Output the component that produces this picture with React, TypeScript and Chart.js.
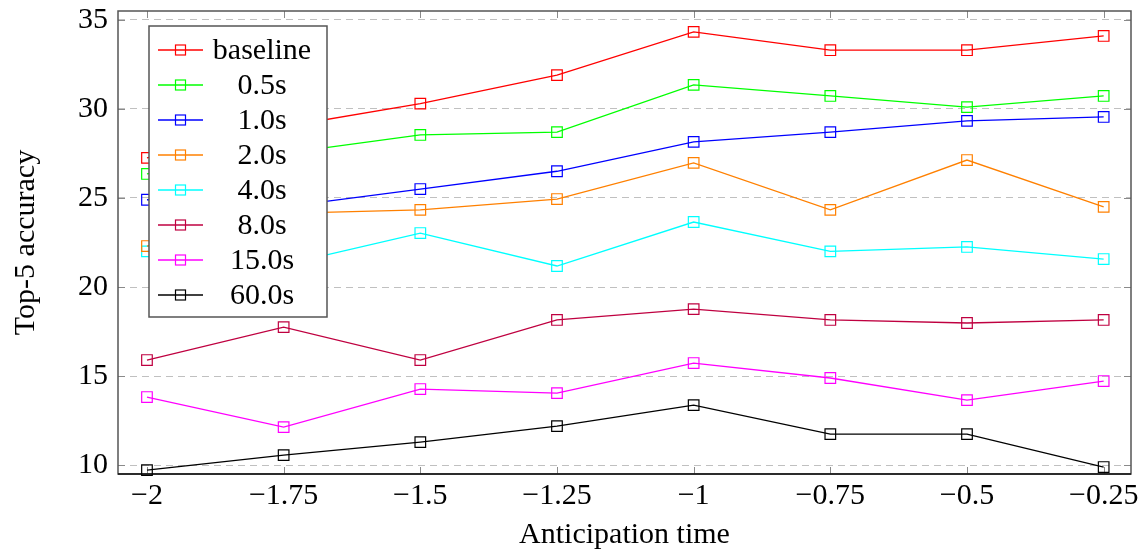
import React, { useEffect, useRef } from "react";
import { Chart, registerables } from "chart.js";
Chart.register(...registerables);

const xValues = [-2, -1.75, -1.5, -1.25, -1, -0.75, -0.5, -0.25];
const yTicks = [10, 15, 20, 25, 30, 35];

const seriesLabels = ["baseline", "0.5s", "1.0s", "2.0s", "4.0s", "8.0s", "15.0s", "60.0s"];
const seriesColors = ["#ff0000", "#00ff00", "#0000ff", "#ff8000", "#00ffff", "#bf0040", "#ff00ff", "#000000"];

const baseline = [27.25, 29.0, 30.3, 31.9, 34.33, 33.3, 33.3, 34.1];
const s05 = [26.35, 27.5, 28.54, 28.7, 31.35, 30.73, 30.1, 30.73];
const s10 = [24.9, 24.5, 25.5, 26.5, 28.15, 28.7, 29.33, 29.55];
const s20 = [22.3, 24.13, 24.33, 24.94, 26.97, 24.33, 27.13, 24.5];
const s40 = [22.0, 21.25, 23.03, 21.18, 23.65, 22.0, 22.25, 21.57];
const s80 = [15.9, 17.75, 15.9, 18.15, 18.76, 18.15, 17.98, 18.15];
const s150 = [13.82, 12.13, 14.27, 14.04, 15.73, 14.89, 13.65, 14.72];
const s600 = [9.72, 10.56, 11.29, 12.19, 13.37, 11.74, 11.74, 9.89];

const seriesValues = [baseline, s05, s10, s20, s40, s80, s150, s600];

const FONT_FAMILY = '"Liberation Serif", "DejaVu Serif", serif';
const FONT_SIZE = 30;

const fmt = (v: number) => (v < 0 ? "\u2212" + String(Math.abs(v)) : String(v));

const framePlugin = {
  id: "frame",
  beforeDatasetsDraw(chart: any) {
    const { ctx, chartArea } = chart;
    const { left, right, top, bottom } = chartArea;
    const xs = chart.scales.x;
    const ys = chart.scales.y;
    ctx.save();
    ctx.strokeStyle = "#8a8a8a";
    ctx.lineWidth = 1;
    ctx.beginPath();
    xValues.forEach((v) => {
      const px = Math.round(xs.getPixelForValue(v)) + 0.5;
      ctx.moveTo(px, bottom);
      ctx.lineTo(px, bottom - 7);
      ctx.moveTo(px, top);
      ctx.lineTo(px, top + 7);
    });
    yTicks.forEach((v) => {
      const py = Math.round(ys.getPixelForValue(v)) + 0.5;
      ctx.moveTo(left, py);
      ctx.lineTo(left + 7, py);
      ctx.moveTo(right, py);
      ctx.lineTo(right - 7, py);
    });
    ctx.stroke();
    ctx.strokeStyle = "#555555";
    ctx.lineWidth = 1.5;
    ctx.strokeRect(left, top, right - left, bottom - top);
    ctx.strokeStyle = "#111111";
    ctx.beginPath();
    ctx.moveTo(left, bottom);
    ctx.lineTo(right, bottom);
    ctx.stroke();
    ctx.restore();
  },
};

const legendPlugin = {
  id: "boxLegend",
  afterDatasetsDraw(chart: any) {
    const { ctx, chartArea } = chart;
    const bx = chartArea.left + 31;
    const by = chartArea.top + 15;
    const bw = 178;
    const bh = 291;
    ctx.save();
    ctx.fillStyle = "#ffffff";
    ctx.fillRect(bx, by, bw, bh);
    ctx.strokeStyle = "#555555";
    ctx.lineWidth = 1.5;
    ctx.strokeRect(bx, by, bw, bh);
    ctx.font = `${FONT_SIZE}px ${FONT_FAMILY}`;
    ctx.textAlign = "center";
    ctx.textBaseline = "middle";
    chart.data.datasets.forEach((ds: any, i: number) => {
      const cy = by + 24 + i * 35;
      ctx.strokeStyle = ds.borderColor;
      ctx.lineWidth = 1.3;
      ctx.beginPath();
      ctx.moveTo(bx + 9, cy);
      ctx.lineTo(bx + 54, cy);
      ctx.stroke();
      ctx.lineWidth = 1.2;
      ctx.strokeRect(bx + 31.5 - 5, cy - 5, 10, 10);
      ctx.fillStyle = "#000000";
      ctx.fillText(ds.label, bx + 113, cy + 1);
    });
    ctx.restore();
  },
};

export default function App() {
  const canvasRef = useRef<HTMLCanvasElement | null>(null);

  useEffect(() => {
    const canvas = canvasRef.current;
    if (!canvas) return;
    const font = { family: FONT_FAMILY, size: FONT_SIZE };
    const chart = new Chart(canvas, {
      type: "line",
      data: {
        datasets: seriesLabels.map((label, i) => ({
          label,
          data: xValues.map((x, j) => ({ x, y: seriesValues[i][j] })),
          borderColor: seriesColors[i],
          backgroundColor: "transparent",
          borderWidth: 1.3,
          pointStyle: "rect",
          pointRadius: 7.5,
          pointBorderWidth: 1.2,
          pointBorderColor: seriesColors[i],
          pointBackgroundColor: "transparent",
          tension: 0,
          fill: false,
          clip: false,
        })),
      },
      options: {
        responsive: false,
        animation: false,
        layout: { padding: { top: 11, right: 15, left: 0, bottom: 0 } },
        plugins: { legend: { display: false }, tooltip: { enabled: false } },
        scales: {
          x: {
            type: "linear",
            min: -2.053,
            max: -0.2,
            afterBuildTicks: (s: any) => {
              s.ticks = xValues.map((v) => ({ value: v }));
            },
            afterFit: (s: any) => {
              s.height = 77;
              s.paddingLeft = 0;
              s.paddingRight = 0;
            },
            grid: { display: false, drawTicks: false },
            border: { display: false },
            ticks: {
              autoSkip: false,
              maxRotation: 0,
              padding: 4,
              color: "#000",
              font,
              callback: (v: any) => fmt(Number(v)),
            },
            title: {
              display: true,
              text: "Anticipation time",
              color: "#000",
              font,
              padding: { top: 0, bottom: -2 },
            },
          },
          y: {
            type: "linear",
            min: 9.5,
            max: 35.5,
            afterBuildTicks: (s: any) => {
              s.ticks = yTicks.map((v) => ({ value: v }));
            },
            afterFit: (s: any) => {
              s.width = 118;
              s.paddingTop = 0;
              s.paddingBottom = 0;
            },
            grid: { display: true, drawTicks: false, color: "#c0c0c0", lineWidth: 1 },
            border: { display: false, dash: [7, 5] },
            ticks: {
              padding: 10,
              color: "#000",
              font,
              callback: (v: any) => String(v),
            },
            title: {
              display: true,
              text: "Top-5 accuracy",
              color: "#000",
              font,
              padding: { top: 8, bottom: 0 },
            },
          },
        },
      },
      plugins: [framePlugin, legendPlugin],
    } as any);
    return () => chart.destroy();
  }, []);

  return (
    <div style={{ position: "absolute", left: 0, top: 0, width: 1146, height: 551, background: "#fff" }}>
      <canvas ref={canvasRef} width={1146} height={551} />
    </div>
  );
}
